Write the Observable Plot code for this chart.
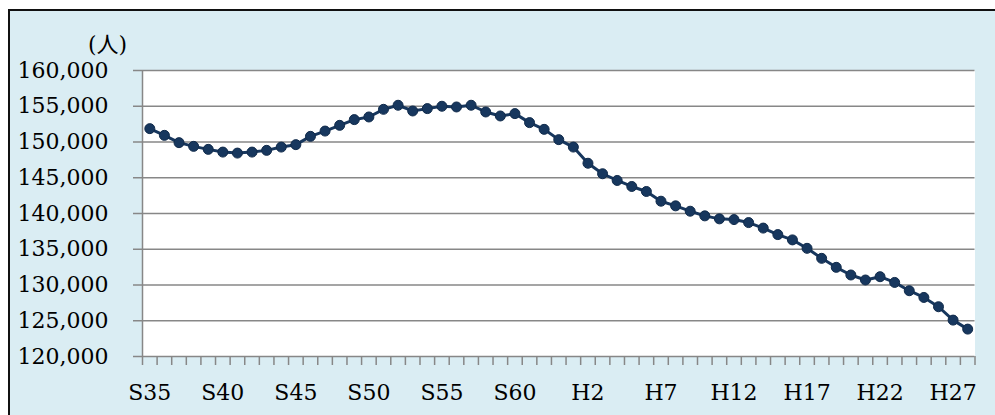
<!DOCTYPE html>
<html><head><meta charset="utf-8">
<script src="https://cdn.jsdelivr.net/npm/d3@7"></script>
<script src="https://cdn.jsdelivr.net/npm/@observablehq/plot@0.6"></script>
<style>
html,body{margin:0;padding:0;background:#fff;}
#wrap{position:relative;width:995px;height:415px;overflow:hidden;}
#frame{position:absolute;left:8px;top:9px;width:1000px;height:420px;background:#daedf3;border-left:2px solid #111;border-top:2px solid #111;}
#chart{position:absolute;left:0;top:0;}
</style></head><body>
<div id="wrap"><div id="frame"></div><div id="chart"></div></div>
<script>
const years = ["S35","S36","S37","S38","S39","S40","S41","S42","S43","S44","S45","S46","S47","S48","S49","S50","S51","S52","S53","S54","S55","S56","S57","S58","S59","S60","S61","S62","S63",
  "H1","H2","H3","H4","H5","H6","H7","H8","H9","H10","H11","H12","H13","H14","H15","H16","H17","H18","H19","H20","H21","H22","H23","H24","H25","H26","H27","H28"];
const population = [151870,150930,149910,149390,148970,148590,148450,148590,148830,149290,149630,150790,151530,152330,153130,153500,154570,155140,154340,154670,155000,154900,155140,154200,153640,153970,152710,151770,150330,
  149290,147030,145560,144620,143780,143080,141720,141070,140320,139670,139250,139150,138730,137960,137050,136310,135130,133730,132470,131400,130700,131160,130360,129200,128260,126960,125090,123830];
const tickLabels = ["S35","S40","S45","S50","S55","S60","H2","H7","H12","H17","H22","H27"];
const yTicks = [120000,125000,130000,135000,140000,145000,150000,155000,160000];
const unitLabel = ["(人)"];

const data = years.map((y, i) => ({i, year: y, value: population[i]}));
const tickIndex = tickLabels.map(l => years.indexOf(l));
const edges = d3.range(-0.5, years.length, 1);
const grey = "#878787";
const navy = "#17375e";

const chart = Plot.plot({
  width: 995, height: 415,
  marginLeft: 142, marginRight: 20.5, marginTop: 70, marginBottom: 59,
  style: {background: "transparent", fontFamily: "'DejaVu Serif', serif", fontSize: "22px", color: "#000"},
  x: {type: "linear", domain: [-0.5, years.length - 0.5]},
  y: {domain: [120000, 160000]},
  marks: [
    Plot.frame({fill: "white", stroke: null}),
    Plot.gridY({ticks: yTicks, stroke: grey, strokeWidth: 1.5, strokeOpacity: 1}),
    Plot.axisY({ticks: yTicks, tickSize: 9, tickPadding: 25, tickFormat: d3.format(","), stroke: grey, strokeWidth: 1.5, strokeOpacity: 1, label: null, fill: "#000"}),
    Plot.ruleX([-0.5], {stroke: grey, strokeWidth: 1.5}),
    Plot.axisX({ticks: edges, tickSize: 9, tickFormat: () => "", stroke: grey, strokeWidth: 1.5, strokeOpacity: 1, label: null}),
    Plot.axisX({ticks: tickIndex, tickSize: 0, tickPadding: 28, tickFormat: i => years[i], label: null, fill: "#000"}),
    Plot.line(data, {x: "i", y: "value", stroke: navy, strokeWidth: 3}),
    Plot.dot(data, {x: "i", y: "value", r: 5, fill: navy, stroke: "#112b4b", strokeWidth: 1}),
    Plot.text(unitLabel, {frameAnchor: "top-left", dx: -35, dy: -26, text: d => d, textAnchor: "middle", lineAnchor: "middle", fontSize: 22, fill: "#000", fontFamily: "'DejaVu Serif', 'Noto Sans CJK JP', serif"})
  ]
});
document.getElementById("chart").appendChild(chart);
</script>
</body></html>
